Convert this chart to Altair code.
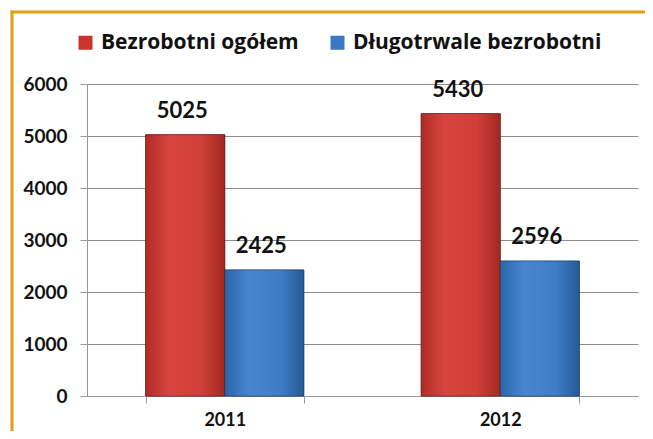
import altair as alt
import pandas as pd

years = ["2011", "2012"]
series = ["Bezrobotni ogółem", "Długotrwale bezrobotni"]
total = [5025, 5430]
longterm = [2425, 2596]
y_ticks = [0, 1000, 2000, 3000, 4000, 5000, 6000]
colors = ["#c9342f", "#3a78c2"]
strokes = ["#8e1e1b", "#1f4f8a"]
grad_stops = [
    ["#b02c27", "#d8453f", "#d13f39", "#a32823"],
    ["#2c64aa", "#4687cf", "#3e7ec6", "#275a98"],
]

rows = []
for i, yr in enumerate(years):
    rows.append({"year": yr, "series": series[0], "value": total[i]})
    rows.append({"year": yr, "series": series[1], "value": longterm[i]})
df = pd.DataFrame(rows)

W, H = 551, 312
FONT = "Lato"

xscale = alt.Scale(paddingInner=0.426, paddingOuter=0.213)
xoff = alt.XOffset("series:N", sort=series, scale=alt.Scale(domain=series))
xenc = alt.X("year:N", title=None, scale=xscale,
             axis=alt.Axis(labelAngle=0, labelFontSize=18, labelFontWeight="bold",
                           labelColor="#111", labelPadding=8, tickBand="extent",
                           tickSize=7, tickColor="#999", domainColor="#999",
                           labelFont=FONT, grid=False))
yenc = alt.Y("value:Q", title=None,
             scale=alt.Scale(domain=[0, 6000], nice=False),
             axis=alt.Axis(values=y_ticks, labelFontSize=19, labelFontWeight="bold",
                           labelColor="#111", labelPadding=13, tickSize=7,
                           tickColor="#999", domainColor="#999", gridColor="#8c8c8c",
                           labelFont=FONT, format="d"))
color = alt.Color("series:N", sort=series,
                  scale=alt.Scale(domain=series, range=colors),
                  legend=alt.Legend(title=None, orient="none", direction="horizontal",
                                    legendX=-12, legendY=-52, symbolType="square",
                                    symbolSize=196, symbolStrokeWidth=0,
                                    labelFontSize=21, labelFont="Open Sans",
                                    labelFontWeight="bold", labelColor="#111",
                                    columnPadding=28, labelOffset=5, labelLimit=400))

bars = alt.Chart(df).mark_bar(strokeWidth=0.8).encode(
    x=xenc, y=yenc, color=color, xOffset=xoff,
    stroke=alt.Stroke("series:N", scale=alt.Scale(domain=series, range=strokes), legend=None),
)

overlays = []
for s, stops in zip(series, grad_stops):
    grad = alt.Gradient(
        gradient="linear", x1=0, x2=1, y1=0, y2=0,
        stops=[alt.GradientStop(offset=0, color=stops[0]),
               alt.GradientStop(offset=0.3, color=stops[1]),
               alt.GradientStop(offset=0.7, color=stops[2]),
               alt.GradientStop(offset=1, color=stops[3])])
    overlays.append(
        alt.Chart(df).transform_filter(alt.datum.series == s).mark_bar(
            fill=grad, stroke="#00000055", strokeWidth=0.8).encode(
            x=alt.X("year:N"), y=alt.Y("value:Q"), xOffset=xoff))

labels = alt.Chart(df).mark_text(dy=-17, dx=-3, fontSize=22, fontWeight="bold", font=FONT,
                                 color="#111", baseline="alphabetic").encode(
    x=alt.X("year:N"), y=alt.Y("value:Q"), xOffset=xoff,
    text=alt.Text("value:Q", format="d"),
)

one = pd.DataFrame({"a": [0]})
frame_top = alt.Chart(one).mark_rule(stroke="#e0a010", strokeWidth=3).encode(
    x=alt.value(-76.5), x2=alt.value(W + 7), y=alt.value(-72))
frame_left = alt.Chart(one).mark_rule(stroke="#e0a010", strokeWidth=3).encode(
    x=alt.value(-75), y=alt.value(-73.5), y2=alt.value(H + 35))

chart = alt.layer(frame_top, frame_left, bars, *overlays, labels).properties(
    width=W, height=H,
    autosize=alt.AutoSizeParams(type="none"),
    padding={"left": 79, "top": 76, "right": 7, "bottom": 35},
    background="white",
).configure_view(stroke=None).configure_axis(labelFont=FONT)

chart.save("out.html", embed_options={"renderer": "svg", "actions": False})
